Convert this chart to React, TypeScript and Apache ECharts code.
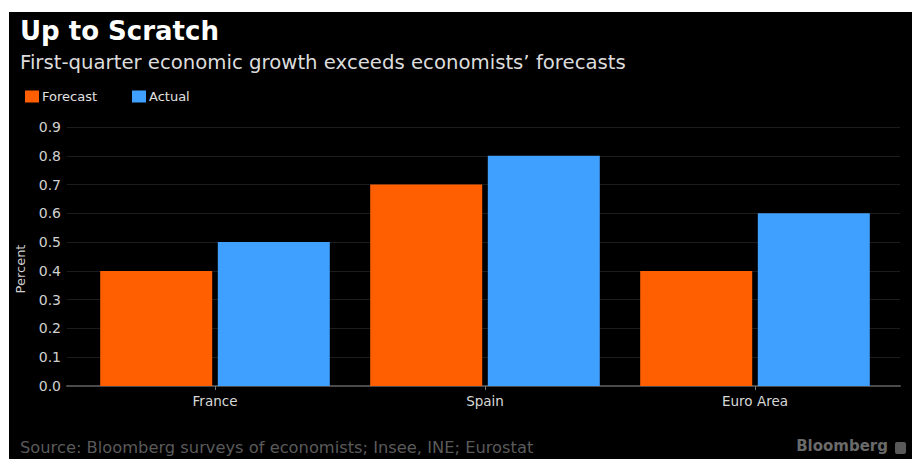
import React, { useEffect, useRef } from "react";
import * as echarts from "echarts";

const categories = ["France", "Spain", "Euro Area"];
const forecastValues = [0.4, 0.7, 0.4];
const actualValues = [0.5, 0.8, 0.6];
const yTicks = [0, 0.1, 0.2, 0.3, 0.4, 0.5, 0.6, 0.7, 0.8, 0.9];

const titleText = "Up to Scratch";
const subtitleText = "First-quarter economic growth exceeds economists\u2019 forecasts";
const yAxisTitle = "Percent";
const sourceText = "Source: Bloomberg surveys of economists; Insee, INE; Eurostat";
const brandText = "Bloomberg";

const ORANGE = "#ff5f00";
const BLUE = "#40a0ff";
const FONT = "DejaVu Sans";

export default function App() {
  const ref = useRef<HTMLDivElement>(null);
  useEffect(() => {
    if (!ref.current) return;
    const chart = echarts.init(ref.current, undefined, { renderer: "svg" });
    chart.setOption({
      animation: false,
      backgroundColor: "#000000",
      textStyle: { fontFamily: FONT },
      legend: {
        left: 11,
        top: 73,
        itemWidth: 14,
        itemHeight: 12,
        itemGap: 35,
        icon: "rect",
        textStyle: { color: "#e0e0e0", fontSize: 13, fontFamily: FONT, padding: [0, 0, 0, -2] },
        data: ["Forecast", "Actual"],
      },
      grid: [
        { left: 58, right: 12, top: 115, bottom: 73, containLabel: false, outerBoundsMode: "none" },
        { left: 71, right: 22, top: 115, bottom: 73, containLabel: false, outerBoundsMode: "none" },
      ],
      xAxis: [
        {
          type: "category",
          gridIndex: 0,
          data: categories,
          axisLine: { show: true, lineStyle: { color: "#4a4a4a", width: 2 } },
          axisTick: { show: false },
          axisLabel: { show: false },
        },
        {
          type: "category",
          gridIndex: 1,
          data: categories,
          axisLine: { show: false },
          axisTick: { show: true, alignWithLabel: true, length: 4, lineStyle: { color: "#777" } },
          axisLabel: { color: "#d8d8d8", fontSize: 13.5, margin: 8, fontFamily: FONT },
        },
      ],
      yAxis: [
        {
          type: "value",
          gridIndex: 0,
          min: 0,
          max: yTicks[yTicks.length - 1],
          interval: 0.1,
          axisLabel: {
            color: "#d0d0d0",
            fontSize: 14,
            margin: 6,
            fontFamily: FONT,
            formatter: (v: number) => v.toFixed(1),
          },
          axisLine: { show: false },
          axisTick: { show: false },
          splitLine: { show: true, lineStyle: { color: "#1c1c1c", width: 1 } },
        },
        {
          type: "value",
          gridIndex: 1,
          min: 0,
          max: yTicks[yTicks.length - 1],
          interval: 0.1,
          axisLabel: { show: false },
          axisLine: { show: false },
          axisTick: { show: false },
          splitLine: { show: false },
        },
      ],
      series: [
        {
          name: "Forecast",
          type: "bar",
          xAxisIndex: 1,
          yAxisIndex: 1,
          data: forecastValues,
          barWidth: 112,
          barGap: "5%",
          itemStyle: { color: ORANGE },
        },
        {
          name: "Actual",
          type: "bar",
          xAxisIndex: 1,
          yAxisIndex: 1,
          data: actualValues,
          barWidth: 112,
          barGap: "5%",
          itemStyle: { color: BLUE },
        },
      ],
      graphic: [
        {
          type: "text",
          left: 11,
          top: 6,
          style: { text: titleText, fill: "#ffffff", font: `bold 26px "${FONT}"` },
        },
        {
          type: "text",
          left: 11,
          top: 40,
          style: { text: subtitleText, fill: "#dcdcdc", font: `19.7px "${FONT}"` },
        },
        {
          type: "text",
          x: 11,
          y: 257,
          rotation: Math.PI / 2,
          style: {
            text: yAxisTitle,
            fill: "#d0d0d0",
            font: `13px "${FONT}"`,
            align: "center",
            verticalAlign: "middle",
          },
        },
        {
          type: "text",
          left: 11,
          top: 427,
          style: { text: sourceText, fill: "#5a5a5a", font: `16.3px "${FONT}"` },
        },
        {
          type: "text",
          right: 24,
          top: 426,
          style: { text: brandText, fill: "#6a6a6a", font: `bold 15px "${FONT}"` },
        },
        {
          type: "rect",
          right: 6,
          top: 430,
          shape: { width: 11, height: 12, r: 2 },
          style: { fill: "#5a5a5a" },
        },
      ],
    });
    return () => chart.dispose();
  }, []);
  return (
    <div style={{ position: "absolute", left: 0, top: 0, width: 912, height: 459, background: "#ffffff" }}>
      <div
        ref={ref}
        style={{ position: "absolute", left: 9, top: 12, width: 903, height: 447, background: "#000000" }}
      />
    </div>
  );
}
